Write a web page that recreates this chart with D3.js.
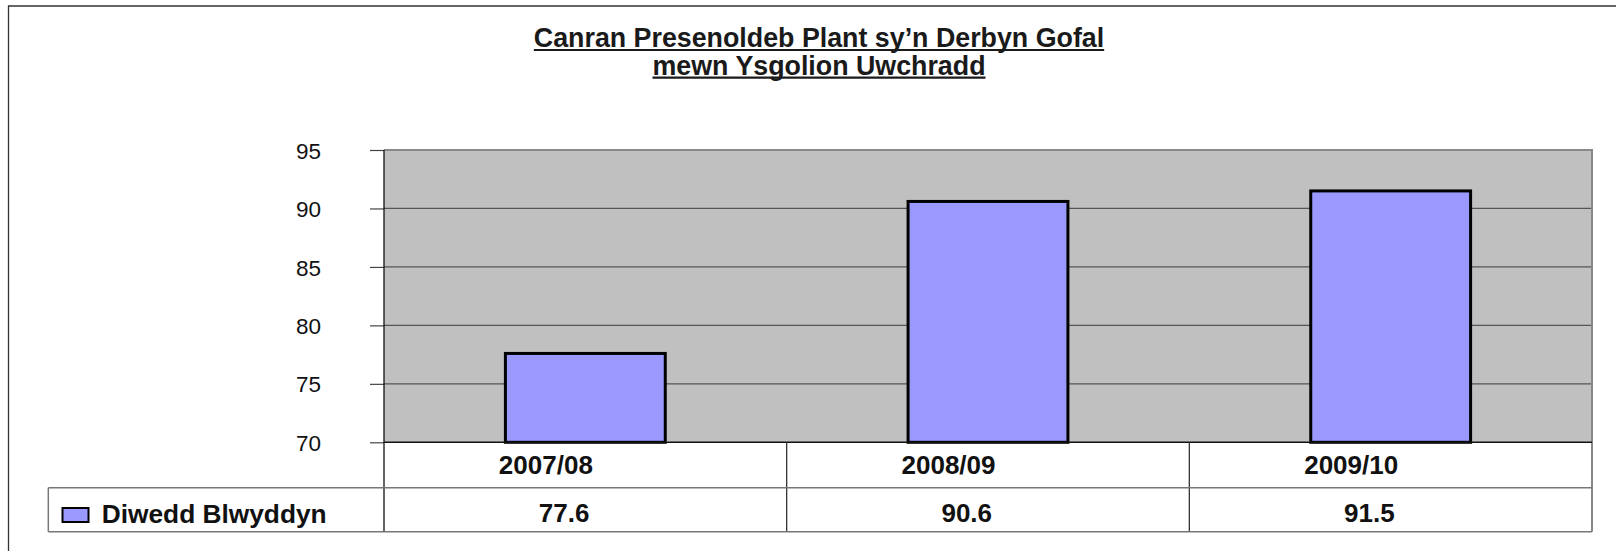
<!DOCTYPE html>
<html>
<head>
<meta charset="utf-8">
<script src="https://cdn.jsdelivr.net/npm/d3@7"></script>
<style>
  html, body { margin: 0; padding: 0; background: #fff; }
  svg { display: block; font-family: "Liberation Sans", Arial, sans-serif; }
</style>
</head>
<body>
<svg id="chart" width="1616" height="551"></svg>
<script>
// Attendance of looked-after children in secondary schools, by school year
const titleLines = ["Canran Presenoldeb Plant sy\u2019n Derbyn Gofal", "mewn Ysgolion Uwchradd"];
const categories = ["2007/08", "2008/09", "2009/10"];
const seriesName = "Diwedd Blwyddyn";
const values = [77.6, 90.6, 91.5];
const yTicks = [70, 75, 80, 85, 90, 95];

const svg = d3.select("#chart");

// Frame layout
const plot = { left: 384, right: 1592, top: 150, bottom: 442.3 };
const table = { left: 48.3, rowTop: 442.3, rowMid: 487.7, rowBottom: 531.7 };

const x = d3.scaleBand().domain(categories).range([plot.left, plot.right]).padding(0);
const y = d3.scaleLinear().domain([d3.min(yTicks), d3.max(yTicks)]).range([plot.bottom, plot.top]);

// Outer chart border (only the top and left edges fall inside the page)
svg.append("path")
  .attr("d", `M8.5,560 V6 H1630`)
  .attr("fill", "none").attr("stroke", "#333").attr("stroke-width", 1.3);

// Title, bold and underlined
const titleG = svg.append("g");
const titleBaselines = [46.8, 74.5];
titleLines.forEach((line, i) => {
  const t = titleG.append("text")
    .attr("x", 819).attr("y", titleBaselines[i])
    .attr("text-anchor", "middle")
    .attr("font-size", 26.8).attr("font-weight", "bold").attr("fill", "#1a1a1a")
    .text(line);
  const w = t.node().getComputedTextLength();
  titleG.append("line")
    .attr("x1", 819 - w / 2).attr("x2", 819 + w / 2)
    .attr("y1", titleBaselines[i] + 3.2).attr("y2", titleBaselines[i] + 3.2)
    .attr("stroke", "#1a1a1a").attr("stroke-width", 2.2);
});

// Plot background
svg.append("rect")
  .attr("x", plot.left).attr("y", plot.top)
  .attr("width", plot.right - plot.left).attr("height", plot.bottom - plot.top)
  .attr("fill", "#C0C0C0");

// Horizontal gridlines
svg.append("g").selectAll("line")
  .data(yTicks.filter(d => d !== d3.min(yTicks) && d !== d3.max(yTicks)))
  .join("line")
  .attr("x1", plot.left).attr("x2", plot.right)
  .attr("y1", d => y(d)).attr("y2", d => y(d))
  .attr("stroke", "#555").attr("stroke-width", 1.2);

// Plot border: grey top and right edges
svg.append("path")
  .attr("d", `M${plot.left},${plot.top} H${plot.right} V${table.rowBottom}`)
  .attr("fill", "none").attr("stroke", "#888").attr("stroke-width", 2);

// Value axis
const yAxis = d3.axisLeft(y).tickValues(yTicks).tickSize(14).tickPadding(49).tickFormat(d3.format("d"));
const yG = svg.append("g").attr("transform", `translate(${plot.left},0)`).call(yAxis);
yG.select(".domain").remove();
yG.selectAll(".tick line").attr("stroke", "#444").attr("stroke-width", 1.2);
yG.selectAll(".tick text")
  .attr("font-size", 22.5).attr("fill", "#111")
  .attr("font-family", "'Liberation Sans', Arial, sans-serif")
  .attr("dy", "0.36em");

// Bars
const barW = x.bandwidth() * 0.397;
svg.append("g").selectAll("rect")
  .data(values)
  .join("rect")
  .attr("x", (d, i) => x(categories[i]) + x.bandwidth() / 2 - barW / 2)
  .attr("width", barW)
  .attr("y", d => y(d))
  .attr("height", d => y(d3.min(yTicks)) - y(d))
  .attr("fill", "#9999FF")
  .attr("stroke", "#000").attr("stroke-width", 3);

// Left axis line, continuing down through the data table
svg.append("line")
  .attr("x1", plot.left).attr("x2", plot.left)
  .attr("y1", plot.top).attr("y2", table.rowBottom)
  .attr("stroke", "#111").attr("stroke-width", 1.3);

// Category axis line
svg.append("line")
  .attr("x1", plot.left).attr("x2", plot.right)
  .attr("y1", plot.bottom).attr("y2", plot.bottom)
  .attr("stroke", "#111").attr("stroke-width", 1.5);

// Data table grid
const tableG = svg.append("g");
tableG.selectAll("line.col")
  .data(categories.slice(1))
  .join("line").attr("class", "col")
  .attr("x1", d => x(d)).attr("x2", d => x(d))
  .attr("y1", table.rowTop).attr("y2", table.rowBottom)
  .attr("stroke", "#333").attr("stroke-width", 1.3);
[table.rowMid, table.rowBottom].forEach(yy => {
  tableG.append("line")
    .attr("x1", table.left).attr("x2", plot.right)
    .attr("y1", yy).attr("y2", yy)
    .attr("stroke", "#777").attr("stroke-width", 1.5);
});
tableG.append("line")
  .attr("x1", table.left).attr("x2", table.left)
  .attr("y1", table.rowMid).attr("y2", table.rowBottom)
  .attr("stroke", "#777").attr("stroke-width", 1.5);

// Table text: category row and value row
function cellText(rowY, labels, shift) {
  tableG.append("g").selectAll("text")
    .data(labels)
    .join("text")
    .attr("y", rowY)
    .attr("text-anchor", "middle")
    .attr("font-size", 26).attr("font-weight", "bold").attr("fill", "#111")
    .text(d => d)
    .attr("x", function(d, i) {
      const w = this.getComputedTextLength();
      return x(categories[i]) + x.bandwidth() / 2 - shift * w;
    });
}
cellText(474, categories, 0.42);
cellText(521.7, values.map(v => v.toFixed(1)), 0.42);

// Legend key inside the table
tableG.append("rect")
  .attr("x", 62.5).attr("y", 508).attr("width", 26).attr("height", 14)
  .attr("fill", "#9999FF").attr("stroke", "#000").attr("stroke-width", 2);
tableG.append("text")
  .attr("x", 101.7).attr("y", 522.5)
  .attr("font-size", 26.3).attr("font-weight", "bold").attr("fill", "#111")
  .text(seriesName);
</script>
</body>
</html>
